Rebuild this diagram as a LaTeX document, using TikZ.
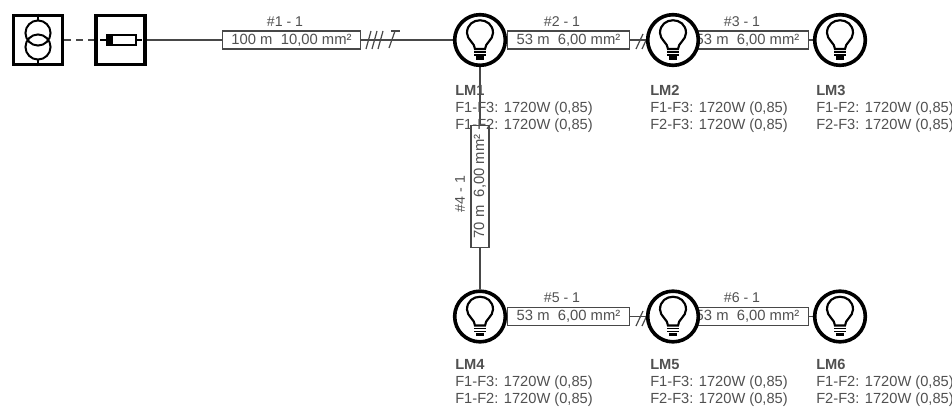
\documentclass[tikz,border=0pt]{standalone}
\usepackage{fontspec}
\setmainfont{Liberation Sans}
\usetikzlibrary{backgrounds}
\definecolor{txtgray}{HTML}{505050}
\definecolor{wiregray}{HTML}{484848}
\tikzset{
    bulb/.pic = {
        \draw[line width=1.6pt] (-5,9) .. controls (-5,3) and (-13,0) .. (-13,-7)
            .. controls (-13,-24) and (13,-24) .. (13,-7)
            .. controls (13,0) and (5,3) .. (5,9) -- cycle;
        \draw[line width=1.3pt] (-6,12) -- (6,12);
        \draw[line width=1.3pt] (-6,15) -- (6,15);
        \draw[line width=2.4pt] (-4,18) -- (4,18);
    }
}
\begin{document}
\begin{tikzpicture}[x=0.75pt, y=-0.75pt,
        lamp/.style = {draw, circle, fill=white, line width=2.7pt, minimum size=38pt, inner sep=0pt},
        source/.style = {draw, fill=white, line width=2.6pt, minimum size=37pt, inner sep=0pt},
        wire/.style = {draw=wiregray, fill=white, line width=0.9pt, minimum width=92pt, minimum height=13.5pt, inner sep=0pt, text=txtgray, font=\fontsize{11.1}{12}\selectfont},
        tag/.style = {text=txtgray, inner sep=0pt, font=\fontsize{10.6}{12}\selectfont},
        load/.style = {text=txtgray, inner sep=0pt, anchor=north west, align=left, font=\fontsize{11}{12.9}\selectfont},
        link/.style = {draw=wiregray, line width=0.9pt}]
        \useasboundingbox (0,0) rectangle (952,407);
        \node[source] (trafo) at (38,40) {};
        \node[source] (fuse) at (120.5,40) {};
        \node[wire, minimum width=104pt] (w1) at (291.5,40) {100 m~~10,00 mm²};
        \node[wire] (w2) at (568.5,40) {53 m~~6,00 mm²};
        \node[wire] (w3) at (747.5,40) {53 m~~6,00 mm²};
        \node[wire, rotate=90] (w4) at (480,186.5) {70 m~~6,00 mm²};
        \node[wire] (w5) at (568.5,316.5) {53 m~~6,00 mm²};
        \node[wire] (w6) at (747.5,316.5) {53 m~~6,00 mm²};
        \node[lamp] (lm1) at (480,40) {};
        \node[lamp] (lm2) at (673,40) {};
        \node[lamp] (lm3) at (840,40) {};
        \node[lamp] (lm4) at (480,316.5) {};
        \node[lamp] (lm5) at (673,316.5) {};
        \node[lamp] (lm6) at (840,316.5) {};
        \pic at (lm1) {bulb};
        \pic at (lm2) {bulb};
        \pic at (lm3) {bulb};
        \pic at (lm4) {bulb};
        \pic at (lm5) {bulb};
        \pic at (lm6) {bulb};
        \node[tag] (t1) at (285,22) {\#1 - 1};
        \node[tag] (t2) at (562,22) {\#2 - 1};
        \node[tag] (t3) at (742,22) {\#3 - 1};
        \node[tag, rotate=90] (t4) at (460,194) {\#4 - 1};
        \node[tag] (t5) at (562,298) {\#5 - 1};
        \node[tag] (t6) at (742,298) {\#6 - 1};
        \node[load] (l1) at (455,85) {\textbf{LM1}\\F1-F3: 1720W (0,85)\\F1-F2: 1720W (0,85)};
        \node[load] (l2) at (650,85) {\textbf{LM2}\\F1-F3: 1720W (0,85)\\F2-F3: 1720W (0,85)};
        \node[load] (l3) at (816,85) {\textbf{LM3}\\F1-F2: 1720W (0,85)\\F2-F3: 1720W (0,85)};
        \node[load] (l4) at (455,359) {\textbf{LM4}\\F1-F3: 1720W (0,85)\\F1-F2: 1720W (0,85)};
        \node[load] (l5) at (650,359) {\textbf{LM5}\\F1-F3: 1720W (0,85)\\F2-F3: 1720W (0,85)};
        \node[load] (l6) at (816,359) {\textbf{LM6}\\F1-F2: 1720W (0,85)\\F2-F3: 1720W (0,85)};
        % transformer symbol
        \draw[line width=1.5pt] (38,33) circle (9.4pt);
        \draw[line width=1.5pt] (38,47) circle (9.4pt);
        \draw[line width=1.5pt] (trafo.north) -- (38,20);
        \draw[line width=1.5pt] (trafo.south) -- (38,60);
        % fuse symbol
        \draw[line width=1.7pt] (100,40) -- (107,40);
        \draw[line width=1.7pt] (136,40) -- (142,40);
        \draw[line width=1.3pt] (107,35) rectangle (136,45);
        \fill (107,35) rectangle (113,45);
        % ticks
        \draw[link] (366,49) -- (371,31);
        \draw[link] (372,49) -- (377,31);
        \draw[link] (378,49) -- (383,31);
        \draw[link] (389,48) -- (395,31);
        \draw[link] (391,31) -- (400,31);
        \begin{scope}[on background layer]
            \draw[link] (636,49) -- (643,34);
            \draw[link] (642,49) -- (649,34);
            \draw[link] (636,326) -- (643,311);
            \draw[link] (642,326) -- (649,311);
            \draw[link, dash pattern=on 5pt off 4pt, line width=0.8pt] (trafo) -- (fuse);
            \draw[link] (fuse) -- (w1);
            \draw[link] (w1) -- (lm1);
            \draw[link] (lm1.center) -- (w2);
            \draw[link] (w2) -- (lm2);
            \draw[link] (lm2.center) -- (w3);
            \draw[link] (w3) -- (lm3);
            \draw[link] (lm1) -- (w4);
            \draw[link] (w4) -- (lm4);
            \draw[link] (lm4.center) -- (w5);
            \draw[link] (w5) -- (lm5);
            \draw[link] (lm5.center) -- (w6);
            \draw[link] (w6) -- (lm6);
        \end{scope}
    \end{tikzpicture}
\end{document}
